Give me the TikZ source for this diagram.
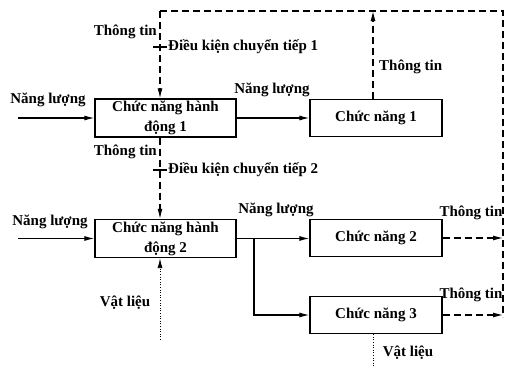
\documentclass[tikz,border=0pt]{standalone}
\usepackage{fontspec}
\setmainfont{Liberation Serif}
\usetikzlibrary{arrows.meta, positioning}

\begin{document}
\begin{tikzpicture}[
  x=1pt, y=-1pt,
  font=\fontsize{15}{17}\selectfont\bfseries,
  fbox/.style={draw, line width=1.3pt, inner sep=0pt, align=center},
  hbox/.style={fbox, minimum width=141pt, minimum height=38pt,
               font=\fontsize{15}{20}\selectfont\bfseries},
  cbox/.style={fbox, minimum width=132pt, minimum height=37pt},
  flow/.style={line width=1.1pt, -{Latex[length=10pt,width=5pt]}},
  info/.style={flow, dash pattern=on 7pt off 4pt},
  mat/.style={flow, line width=0.9pt, dash pattern=on 1pt off 1.6pt},
  lbl/.style={inner sep=1pt},
]
\useasboundingbox (0,0) rectangle (507,367);

% Function blocks
\node[hbox] (hd1) at (165.5,118) {Chức năng hành\\động 1};
\node[cbox] (cn1) at (376,118) {Chức năng 1};
\node[hbox] (hd2) at (165.5,238.5) {Chức năng hành\\động 2};
\node[cbox] (cn2) at (376,238) {Chức năng 2};
\node[cbox] (cn3) at (376,315) {Chức năng 3};

% Corner and end points of the connectors
\coordinate (in1) at (18,118);
\coordinate (in2) at (18,238.5);
\coordinate (tl) at (160,11);
\coordinate (tr) at (503,11);
\coordinate (br) at (503,317);
\coordinate (k1) at (160,47);
\coordinate (k2) at (160,170);
\coordinate (fork) at (254,238.5);
\coordinate (m1) at (160,340);
\coordinate (m3) at (373,367);

% Energy flow
\draw[flow] (in1) -- (hd1);
\draw[flow] (hd1) -- (cn1);
\draw[flow] (in2) -- (hd2);
\draw[line width=1.1pt] (hd2.east) -- (fork);
\draw[flow] (fork) -- (cn2.west |- fork);
\draw[flow] (fork) |- (cn3);

% Information loop
\draw[info, -] (tl) -- (tr) -- (br);
\draw[info] (tl) -- (tl |- hd1.north);
\draw[info] (tl |- hd1.south) -- (tl |- hd2.north);
\draw[info] (cn1.north -| 373,0) -- (373,11);
\draw[info] (cn2) -- (cn2 -| br);
\draw[info] (cn3) -- (cn3 -| br);

% Transition conditions
\draw[line width=1.1pt] (k1) ++(-7,0) -- ++(14,0);
\draw[line width=1.1pt] (k2) ++(-7,0) -- ++(14,0);

% Material flow
\draw[mat] (m1) -- (m1 |- hd2.south);
\draw[mat, -] (cn3.south -| m3) -- (m3);

% Labels
\node[lbl, anchor=east] (tt1) at (158,32) {Thông tin};
\node[lbl, anchor=west] (dk1) at (167,47) {Điều kiện chuyển tiếp 1};
\node[lbl, anchor=east] (tt2) at (158,152) {Thông tin};
\node[lbl, anchor=west] (dk2) at (167,170) {Điều kiện chuyển tiếp 2};
\node[lbl] (nl1) at (48,100) {Năng lượng};
\node[lbl] (nl2) at (272,90) {Năng lượng};
\node[lbl] (nl3) at (50,222) {Năng lượng};
\node[lbl] (nl4) at (276,210) {Năng lượng};
\node[lbl, anchor=west] (tt3) at (378,67) {Thông tin};
\node[lbl] (tt4) at (471,213) {Thông tin};
\node[lbl] (tt5) at (471,295) {Thông tin};
\node[lbl] (vl1) at (125,303) {Vật liệu};
\node[lbl] (vl2) at (408,353) {Vật liệu};
\end{tikzpicture}
\end{document}
